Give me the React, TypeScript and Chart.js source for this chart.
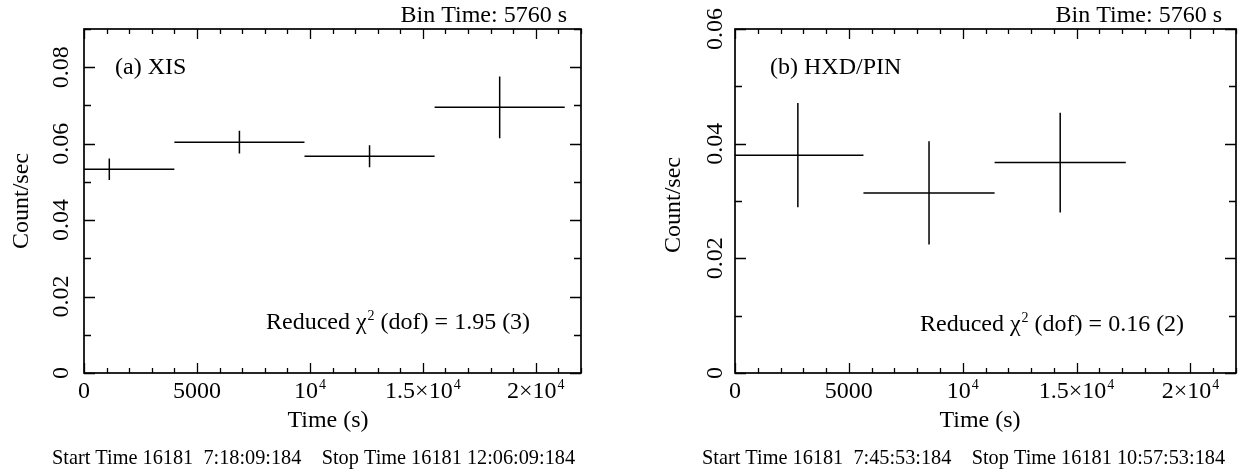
import React, { useEffect, useRef } from "react";
import { Chart, registerables } from "chart.js";

Chart.register(...registerables);

// ---------------- data ----------------
const BIN_HALF_WIDTH = 2880; // 5760 s bins

const XIS_TIME = [1120, 6880, 12640, 18400];
const XIS_RATE = [0.0533, 0.0604, 0.0567, 0.0695];
const XIS_ERR = [0.0028, 0.003, 0.0029, 0.0081];

const PIN_TIME = [2760, 8520, 14280];
const PIN_RATE = [0.038, 0.0314, 0.0367];
const PIN_ERR = [0.0091, 0.009, 0.0087];

const X_MAJOR = [0, 5000, 10000, 15000, 20000];
const X_TICK_LABELS = ["0", "5000", "10^4", "1.5×10^4", "2×10^4"];
const X_MINOR_STEP = 1000;
const X_MAX = 22000;

const XIS_Y_MAJOR = [0, 0.02, 0.04, 0.06, 0.08];
const XIS_Y_LABELS = ["0", "0.02", "0.04", "0.06", "0.08"];
const XIS_Y_MAX = 0.09;

const PIN_Y_MAJOR = [0, 0.02, 0.04, 0.06];
const PIN_Y_LABELS = ["0", "0.02", "0.04", "0.06"];
const PIN_Y_MAX = 0.06;
const Y_MINOR_STEP = 0.01;

const X_TITLE = "Time (s)";
const Y_TITLE = "Count/sec";
const BIN_TEXT = "Bin Time: 5760 s";
const XIS_LABEL = "(a) XIS";
const PIN_LABEL = "(b) HXD/PIN";
const XIS_CHI = "Reduced χ^2 (dof) = 1.95 (3)";
const PIN_CHI = "Reduced χ^2 (dof) = 0.16 (2)";
const XIS_TIMES = "Start Time 16181  7:18:09:184    Stop Time 16181 12:06:09:184";
const PIN_TIMES = "Start Time 16181  7:45:53:184    Stop Time 16181 10:57:53:184";

// ---------------- helpers ----------------
const FONT = '"Liberation Serif", "Times New Roman", Times, serif';
const SIZE = 24;
const SMALL = 20.3;

function parseRich(s: string) {
  const parts: { t: string; sup: boolean }[] = [];
  let buf = "";
  for (let i = 0; i < s.length; i++) {
    if (s[i] === "^" && i + 1 < s.length) {
      if (buf) parts.push({ t: buf, sup: false });
      buf = "";
      parts.push({ t: s[i + 1], sup: true });
      i++;
    } else buf += s[i];
  }
  if (buf) parts.push({ t: buf, sup: false });
  return parts;
}

function drawRich(
  ctx: CanvasRenderingContext2D,
  s: string,
  x: number,
  y: number,
  size: number,
  align: "left" | "center" | "right"
) {
  const parts = parseRich(s);
  const supSize = Math.round(size * 0.6);
  let total = 0;
  const widths = parts.map((p) => {
    ctx.font = `${p.sup ? supSize : size}px ${FONT}`;
    const w = ctx.measureText(p.t).width + (p.sup ? 1 : 0);
    total += w;
    return w;
  });
  let cx = align === "left" ? x : align === "center" ? x - total / 2 : x - total;
  ctx.textAlign = "left";
  ctx.textBaseline = "alphabetic";
  parts.forEach((p, i) => {
    ctx.font = `${p.sup ? supSize : size}px ${FONT}`;
    ctx.fillText(p.t, cx + (p.sup ? 1 : 0), p.sup ? y - size * 0.38 : y);
    cx += widths[i];
  });
}

function drawRotated(ctx: CanvasRenderingContext2D, s: string, x: number, y: number, size: number) {
  ctx.save();
  ctx.translate(x, y);
  ctx.rotate(-Math.PI / 2);
  ctx.font = `${size}px ${FONT}`;
  ctx.textAlign = "center";
  ctx.textBaseline = "alphabetic";
  ctx.fillText(s, 0, 0);
  ctx.restore();
}

function buildSegments(times: number[], rates: number[], errs: number[]) {
  const pts: { x: number; y: number | null }[] = [];
  times.forEach((t, i) => {
    pts.push({ x: t - BIN_HALF_WIDTH, y: rates[i] });
    pts.push({ x: t + BIN_HALF_WIDTH, y: rates[i] });
    pts.push({ x: t, y: null });
    pts.push({ x: t, y: rates[i] - errs[i] });
    pts.push({ x: t, y: rates[i] + errs[i] });
    pts.push({ x: t, y: null });
  });
  return pts;
}

type PanelCfg = {
  canvasLeft: number;
  width: number;
  padLeft: number;
  padRight: number;
  yMax: number;
  yMajor: number[];
  yLabels: string[];
  times: number[];
  rates: number[];
  errs: number[];
  label: string;
  chi: string;
  timesText: string;
  binRight: number;
  labelLeft: number;
  chiLeft: number;
  chiBase: number;
  yLabelBase: number;
  yTitleBase: number;
  yTitleCenter: number;
  xTitleCenter: number;
  timesLeft: number;
};

const frameBarsPlugin = {
  id: "frameBars",
  afterDraw(chart: any) {
    const cfg: PanelCfg = chart.options.plugins.frameBars.cfg;
    const ctx: CanvasRenderingContext2D = chart.ctx;
    const { left, right, top, bottom } = chart.chartArea;
    const xs = chart.scales.x;
    const ys = chart.scales.y;
    ctx.save();
    ctx.strokeStyle = "#000";
    ctx.fillStyle = "#000";
    // frame
    ctx.lineWidth = 1.7;
    ctx.strokeRect(left, top, right - left, bottom - top);
    ctx.lineWidth = 1.3;
    ctx.beginPath();
    // x ticks
    for (let v = 0; v <= X_MAX + 1e-6; v += X_MINOR_STEP) {
      const px = Math.round(xs.getPixelForValue(v)) + 0.5;
      const major = X_MAJOR.includes(v);
      const len = major ? 10 : 5;
      ctx.moveTo(px, bottom);
      ctx.lineTo(px, bottom - len);
      ctx.moveTo(px, top);
      ctx.lineTo(px, top + len);
    }
    // y ticks
    const n = Math.round(cfg.yMax / Y_MINOR_STEP);
    for (let k = 0; k <= n; k++) {
      const v = k * Y_MINOR_STEP;
      const py = Math.round(ys.getPixelForValue(v)) + 0.5;
      const major = cfg.yMajor.some((m) => Math.abs(m - v) < 1e-9);
      const len = major ? 11 : 7;
      ctx.moveTo(left, py);
      ctx.lineTo(left + len, py);
      ctx.moveTo(right, py);
      ctx.lineTo(right - len, py);
    }
    ctx.stroke();

    // x tick labels
    X_MAJOR.forEach((v, i) => {
      drawRich(ctx, X_TICK_LABELS[i], xs.getPixelForValue(v), 398, SIZE, "center");
    });
    // y tick labels (rotated)
    cfg.yMajor.forEach((v, i) => {
      drawRotated(ctx, cfg.yLabels[i], cfg.yLabelBase, ys.getPixelForValue(v), SIZE);
    });
    // titles and annotations
    drawRich(ctx, X_TITLE, cfg.xTitleCenter, 427, SIZE, "center");
    drawRotated(ctx, Y_TITLE, cfg.yTitleBase, cfg.yTitleCenter, SIZE);
    drawRich(ctx, BIN_TEXT, cfg.binRight, 22, SIZE, "right");
    drawRich(ctx, cfg.label, cfg.labelLeft, 74, SIZE, "left");
    drawRich(ctx, cfg.chi, cfg.chiLeft, cfg.chiBase, SIZE, "left");
    drawRich(ctx, cfg.timesText, cfg.timesLeft, 464, SMALL, "left");
    ctx.restore();
  },
};

const XIS_CFG: PanelCfg = {
  canvasLeft: 0,
  width: 623,
  padLeft: 84,
  padRight: 42,
  yMax: XIS_Y_MAX,
  yMajor: XIS_Y_MAJOR,
  yLabels: XIS_Y_LABELS,
  times: XIS_TIME,
  rates: XIS_RATE,
  errs: XIS_ERR,
  label: XIS_LABEL,
  chi: XIS_CHI,
  timesText: XIS_TIMES,
  binRight: 567,
  labelLeft: 115,
  chiLeft: 266,
  chiBase: 329,
  yLabelBase: 68,
  yTitleBase: 28,
  yTitleCenter: 201,
  xTitleCenter: 328,
  timesLeft: 52,
};

const PIN_CFG: PanelCfg = {
  canvasLeft: 623,
  width: 623,
  padLeft: 112,
  padRight: 10,
  yMax: PIN_Y_MAX,
  yMajor: PIN_Y_MAJOR,
  yLabels: PIN_Y_LABELS,
  times: PIN_TIME,
  rates: PIN_RATE,
  errs: PIN_ERR,
  label: PIN_LABEL,
  chi: PIN_CHI,
  timesText: PIN_TIMES,
  binRight: 599,
  labelLeft: 147,
  chiLeft: 297,
  chiBase: 331,
  yLabelBase: 99,
  yTitleBase: 57,
  yTitleCenter: 205,
  xTitleCenter: 357,
  timesLeft: 79,
};

function Panel({ cfg }: { cfg: PanelCfg }) {
  const ref = useRef<HTMLCanvasElement>(null);
  useEffect(() => {
    const chart = new Chart(ref.current as HTMLCanvasElement, {
      type: "line",
      data: {
        datasets: [
          {
            data: buildSegments(cfg.times, cfg.rates, cfg.errs) as any,
            borderColor: "#000",
            borderWidth: 1.5,
            pointRadius: 0,
            spanGaps: false,
            tension: 0,
            fill: false,
          },
        ],
      },
      options: {
        animation: false,
        responsive: false,
        devicePixelRatio: 1,
        layout: { padding: { left: cfg.padLeft, right: cfg.padRight, top: 29, bottom: 99 } },
        scales: {
          x: { type: "linear", min: 0, max: X_MAX, display: false },
          y: { type: "linear", min: 0, max: cfg.yMax, display: false },
        },
        plugins: {
          legend: { display: false },
          tooltip: { enabled: false },
          frameBars: { cfg },
        } as any,
      },
      plugins: [frameBarsPlugin],
    });
    return () => chart.destroy();
  }, [cfg]);
  return (
    <canvas
      ref={ref}
      width={cfg.width}
      height={472}
      style={{ position: "absolute", left: cfg.canvasLeft, top: 0, width: cfg.width, height: 472 }}
    />
  );
}

export default function App() {
  return (
    <div style={{ position: "absolute", left: 0, top: 0, width: 1246, height: 472, background: "#fff" }}>
      <Panel cfg={XIS_CFG} />
      <Panel cfg={PIN_CFG} />
    </div>
  );
}
